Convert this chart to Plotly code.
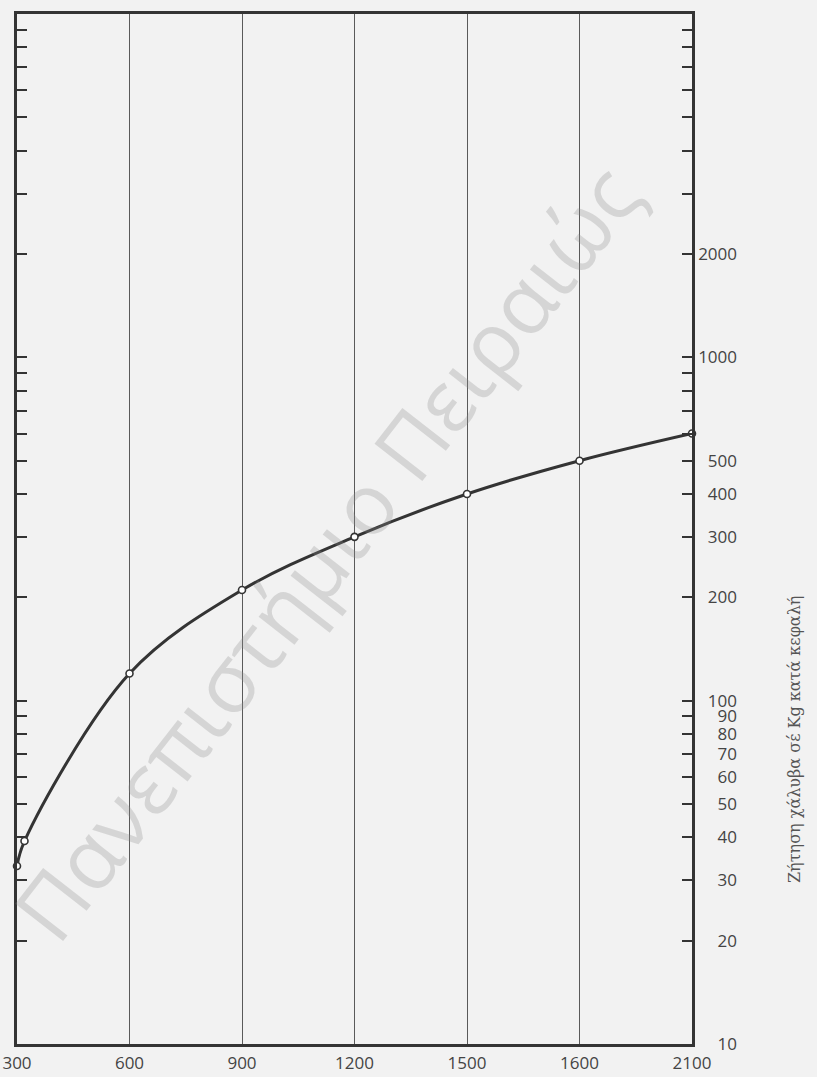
import numpy as np
import plotly.graph_objects as go

# Income levels on the horizontal scale (printed tick values, evenly spaced)
x_ticks = [300, 600, 900, 1200, 1500, 1600, 2100]

# Observed points: income level vs steel demand (kg per head)
income = [300, 320, 600, 900, 1200, 1500, 1600, 2100]
steel_kg = [33, 39, 120, 210, 300, 400, 500, 600]

# Logarithmic demand scale
y_tickvals = [10, 20, 30, 40, 50, 60, 70, 80, 90, 100,
              200, 300, 400, 500, 600, 700, 800, 900, 1000,
              2000, 3000, 4000, 5000, 6000, 7000, 8000, 9000]
y_labelled = [10, 20, 30, 40, 50, 60, 70, 80, 90, 100,
              200, 300, 400, 500, 1000, 2000]

y_title = "Ζήτηση χάλυβα σέ Kg κατά κεφαλή"
watermark = "Πανεπιστήμιο Πειραιώς"

BG = "#f2f2f2"
INK = "#343434"
FIG_SPACE = "\u2007"

ML, MR, MT, MB = 17, 125, 14, 33
W, H = 817, 1077


def pad(v):
    s = str(v)
    return FIG_SPACE * (4 - len(s)) + s


y_ticktext = [pad(v) if v in y_labelled else "" for v in y_tickvals]

# The horizontal ticks are evenly spaced, so place each income by interpolating
# between neighbouring printed values
idx = list(range(len(x_ticks)))
x_pos = np.interp(income, x_ticks, idx)

fig = go.Figure()
fig.add_trace(go.Scatter(
    x=x_pos, y=steel_kg,
    mode="lines+markers",
    line=dict(color=INK, width=3, shape="spline", smoothing=1.0),
    marker=dict(symbol="circle", size=7, color="white",
                line=dict(color=INK, width=1.6)),
    cliponaxis=False,
    showlegend=False,
    hoverinfo="skip",
))

fig.update_layout(
    width=W, height=H,
    margin=dict(l=ML, r=MR, t=MT, b=MB),
    paper_bgcolor=BG, plot_bgcolor=BG,
    font=dict(family="Open Sans, DejaVu Sans", size=17, color="#444444"),
    xaxis=dict(
        range=[0, len(x_ticks) - 1], automargin=False,
        tickmode="array", tickvals=idx, ticktext=[str(v) for v in x_ticks],
        showgrid=True, gridcolor="#5a5a5a", gridwidth=1,
        showline=True, linecolor=INK, linewidth=3, mirror=True,
        ticks="", zeroline=False, ticklabelstandoff=2,
    ),
    yaxis=dict(
        type="log", range=[1, 4], side="right", automargin=False,
        tickmode="array", tickvals=y_tickvals, ticktext=y_ticktext,
        ticks="inside", ticklen=10, tickwidth=2, tickcolor=INK,
        showline=True, linecolor=INK, linewidth=2.5, mirror="ticks",
        showgrid=False, zeroline=False, ticklabelstandoff=0,
    ),
)

plot_w = W - ML - MR
plot_h = H - MT - MB

# Axis title set vertically beside the right-hand scale
fig.add_annotation(
    text=y_title, xref="paper", yref="paper",
    x=(794 - ML) / plot_w, y=(H - MB - 740) / plot_h,
    xanchor="center", yanchor="middle",
    showarrow=False, textangle=-90,
    font=dict(family="DejaVu Serif", size=16, color="#555555"),
)

# Light diagonal watermark across the page
fig.add_annotation(
    text=watermark, xref="paper", yref="paper",
    x=(325 - ML) / plot_w, y=(H - MB - 552) / plot_h,
    xanchor="center", yanchor="middle",
    showarrow=False, textangle=-52,
    font=dict(family="Open Sans", size=85, color="rgba(140,140,140,0.28)"),
)

fig.write_html("out.html")
